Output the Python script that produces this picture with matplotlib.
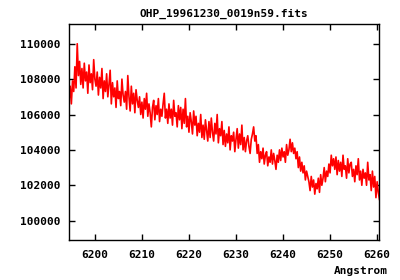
import numpy as np
import matplotlib
matplotlib.use("Agg")
import matplotlib.pyplot as plt

# spectrum (0.25 A steps)
wave_start = 6194.5
wave_end = 6260.5
flux = [
    106800, 107600, 106600, 107900, 107300, 108700, 107500, 110000, 108200, 109000, 107700, 108600,
    107500, 108900, 107900, 108400, 107200, 108800, 107800, 108300, 107400, 109100, 108000, 107600,
    108400, 107100, 108100, 107500, 108600, 106900, 107900, 107300, 108300, 107000, 107700, 108500,
    106600, 107800, 107000, 107500, 106400, 107900, 106900, 107300, 106500, 108000, 107100, 106700,
    107300, 106300, 108200, 107000, 106200, 107600, 106600, 107200, 106100, 107400, 106800, 106400,
    107000, 106000, 106700, 105800, 106900, 106300, 107200, 105900, 106600, 106100, 105300, 106400,
    106800, 105700, 106500, 106000, 106900, 105600, 106300, 105900, 106600, 107200, 105800, 106300,
    105500, 106600, 105800, 106300, 105400, 106800, 105900, 106100, 105300, 106500, 105700, 106400,
    105200, 106300, 105500, 106900, 105300, 105900, 105000, 106100, 105600, 104900, 106200, 105400,
    105900, 104800, 105500, 105000, 106000, 104700, 105400, 104600, 105700, 105100, 104500, 105600,
    104700, 105800, 105000, 104500, 105500, 104900, 106000, 104400, 105200, 104800, 105600, 104300,
    105100, 104200, 104900, 104400, 105300, 104000, 104800, 104500, 105000, 103900, 104600, 105200,
    104100, 104900, 104300, 105400, 104000, 104700, 103900, 104500, 104800, 104200, 103800, 104600,
    104900, 105300, 104500, 104800, 103800, 104300, 103300, 103900, 103500, 104100, 103200, 103700,
    103900, 103100, 103600, 103300, 104000, 103200, 103800, 103400, 102900, 103700, 103300, 104000,
    103400, 104100, 103600, 103900, 103300, 104300, 103700, 104000, 104600, 103900, 104400, 103800,
    104100, 103500, 103900, 103000, 103600, 102800, 103300, 102700, 103100, 102300, 102800, 102500,
    102200, 101700, 102500, 101900, 102300, 101500, 102100, 101800, 102400, 101600, 102600, 102000,
    102400, 103000, 102200, 102800, 102500, 103200, 102700, 103700, 103100, 103500, 102900, 103600,
    102600, 103400, 102800, 103300, 102500, 103700, 102900, 103100, 102400, 103500, 102700, 103200,
    103300, 102500, 102900, 102200, 103100, 102600, 103500, 102300, 102800, 102000, 102900, 102400,
    102700, 102000, 103300, 102300, 102600, 101700, 102800, 101900, 102500, 101300, 102200, 101600,
    101200,
]
wave = np.linspace(wave_start, wave_end, len(flux))

xticks = [6200, 6210, 6220, 6230, 6240, 6250, 6260]
yticks = [100000, 102000, 104000, 106000, 108000, 110000]

font = dict(family="DejaVu Sans Mono", weight="bold", size=8)

fig = plt.figure(figsize=(4, 2.8), dpi=100)
ax = fig.add_axes([0.1725, 0.143, 0.775, 0.771])

ax.plot(wave, flux, color="red", lw=1.2)

ax.set_xlim(6194.5, 6260.4)
ax.set_ylim(98910, 111110)
ax.set_xticks(xticks)
ax.set_yticks(yticks)
ax.set_xticklabels([str(t) for t in xticks], **font)
ax.set_yticklabels([str(t) for t in yticks], **font)
ax.tick_params(direction="in", length=4, width=1, top=True, right=True)
ax.tick_params(axis="x", pad=7)
ax.tick_params(axis="y", pad=6)
for s in ax.spines.values():
    s.set_linewidth(1)

fig.text(0.56, 0.95, "OHP_19961230_0019n59.fits", ha="center", va="center", **font)
fig.text(0.97, 0.032, "Angstrom", ha="right", va="center", **font)

fig.savefig("out.png", dpi=100)
